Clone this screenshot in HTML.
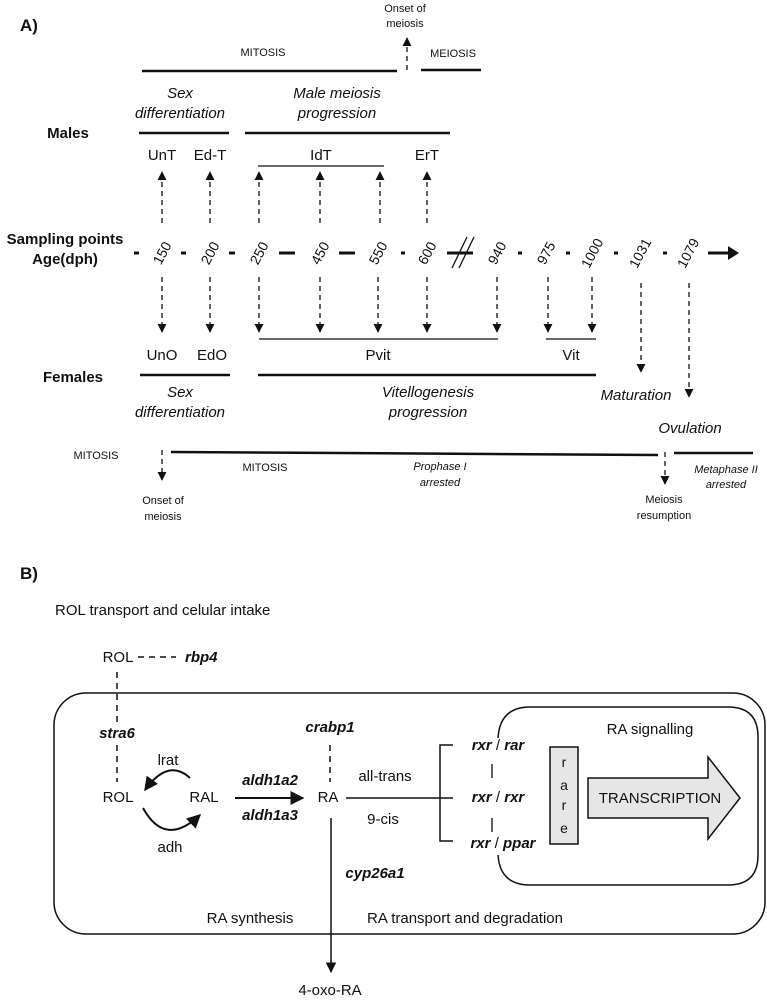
<!DOCTYPE html>
<html><head><meta charset="utf-8"><style>
html,body{margin:0;padding:0;background:#fff;}
svg{display:block;}
text{font-family:"Liberation Sans Narrow","Liberation Sans",sans-serif;fill:#111;}
.it{font-style:italic;}
.b{font-weight:bold;}
.bi{font-weight:bold;font-style:italic;}
</style></head><body>
<svg width="767" height="1001" viewBox="0 0 767 1001" xmlns="http://www.w3.org/2000/svg">
<defs>
<marker id="ah" viewBox="0 0 10 10" refX="9" refY="5" markerWidth="7" markerHeight="7" orient="auto"><path d="M0,0 L10,5 L0,10 z" fill="#111"/></marker>
</defs>
<g stroke="#111" fill="none">
<!-- A top -->
<line x1="407" y1="70" x2="407" y2="38" stroke-width="1.3" stroke-dasharray="5,4" marker-end="url(#ah)"/>
<line x1="142" y1="71" x2="397" y2="71" stroke-width="2.5"/>
<line x1="421" y1="70" x2="481" y2="70" stroke-width="2.5"/>
<line x1="139" y1="133" x2="229" y2="133" stroke-width="2.5"/>
<line x1="245" y1="133" x2="450" y2="133" stroke-width="2.5"/>
<line x1="258" y1="166" x2="384" y2="166" stroke-width="1.3"/>
<g stroke-width="1.3" stroke-dasharray="5,4" marker-end="url(#ah)">
<line x1="162" y1="223" x2="162" y2="172"/><line x1="210" y1="223" x2="210" y2="172"/>
<line x1="259" y1="223" x2="259" y2="172"/><line x1="320" y1="223" x2="320" y2="172"/>
<line x1="380" y1="223" x2="380" y2="172"/><line x1="427" y1="223" x2="427" y2="172"/>
</g>
<!-- axis dashes -->
<g stroke-width="3">
<line x1="134" y1="253" x2="139" y2="253"/><line x1="181" y1="253" x2="186" y2="253"/>
<line x1="229" y1="253" x2="235" y2="253"/><line x1="279" y1="253" x2="295" y2="253"/>
<line x1="339" y1="253" x2="355" y2="253"/><line x1="401" y1="253" x2="405" y2="253"/>
<line x1="447" y1="253" x2="473" y2="253"/><line x1="518" y1="253" x2="522" y2="253"/>
<line x1="566" y1="253" x2="570" y2="253"/><line x1="614" y1="253" x2="618" y2="253"/>
<line x1="663" y1="253" x2="667" y2="253"/><line x1="708" y1="253" x2="730" y2="253"/>
</g>
<path d="M728,246 L739,253 L728,260 z" fill="#111" stroke="none"/>
<line x1="452" y1="268" x2="467" y2="237" stroke-width="1.3"/>
<line x1="459" y1="268" x2="474" y2="237" stroke-width="1.3"/>
<!-- down arrows -->
<g stroke-width="1.3" stroke-dasharray="5,4" marker-end="url(#ah)">
<line x1="162" y1="277" x2="162" y2="332"/><line x1="210" y1="277" x2="210" y2="332"/>
<line x1="259" y1="277" x2="259" y2="332"/><line x1="320" y1="277" x2="320" y2="332"/>
<line x1="378" y1="277" x2="378" y2="332"/><line x1="427" y1="277" x2="427" y2="332"/>
<line x1="497" y1="277" x2="497" y2="332"/><line x1="548" y1="277" x2="548" y2="332"/>
<line x1="592" y1="277" x2="592" y2="332"/><line x1="641" y1="283" x2="641" y2="372"/>
<line x1="689" y1="283" x2="689" y2="397"/>
</g>
<line x1="259" y1="339" x2="498" y2="339" stroke-width="1.3"/>
<line x1="546" y1="339" x2="596" y2="339" stroke-width="1.3"/>
<line x1="140" y1="375" x2="230" y2="375" stroke-width="2.5"/>
<line x1="258" y1="375" x2="596" y2="375" stroke-width="2.5"/>
<line x1="171" y1="452" x2="658" y2="455" stroke-width="2.5"/>
<line x1="674" y1="453" x2="753" y2="453" stroke-width="2.5"/>
<line x1="162" y1="450" x2="162" y2="480" stroke-width="1.3" stroke-dasharray="5,4" marker-end="url(#ah)"/>
<line x1="665" y1="452" x2="665" y2="484" stroke-width="1.3" stroke-dasharray="5,4" marker-end="url(#ah)"/>

<!-- B -->
<line x1="138" y1="657" x2="176" y2="657" stroke-width="1.5" stroke-dasharray="6,5"/>
<line x1="117" y1="672" x2="117" y2="722" stroke-width="1.5" stroke-dasharray="6,5"/>
<line x1="117" y1="745" x2="117" y2="782" stroke-width="1.5" stroke-dasharray="6,5"/>
<rect x="54" y="693" width="711" height="241" rx="32" stroke-width="1.5"/>
<path d="M498,738 Q500,707 530,707 L728,707 Q758,707 758,737 L758,855 Q758,885 728,885 L530,885 Q500,885 498,855" stroke-width="1.5"/>
<line x1="330" y1="745" x2="330" y2="782" stroke-width="1.5" stroke-dasharray="6,5"/>
<path d="M190,778 Q168,758 145,790" stroke-width="2" marker-end="url(#ah)"/>
<path d="M143,808 Q165,848 200,815" stroke-width="2" marker-end="url(#ah)"/>
<line x1="235" y1="798" x2="303" y2="798" stroke-width="2" marker-end="url(#ah)"/>
<line x1="346" y1="798" x2="440" y2="798" stroke-width="1.5"/>
<path d="M453,745 L440,745 L440,841 L453,841" stroke-width="1.5"/>
<line x1="440" y1="798" x2="453" y2="798" stroke-width="1.5"/>
<line x1="492" y1="764" x2="492" y2="778" stroke-width="1.3"/>
<line x1="492" y1="818" x2="492" y2="832" stroke-width="1.3"/>
<rect x="550" y="747" width="28" height="97" fill="#e6e6e6" stroke-width="1.5"/>
<path d="M588,778 L708,778 L708,757 L740,798 L708,839 L708,818 L588,818 z" fill="#e6e6e6" stroke-width="1.5"/>
<line x1="331" y1="818" x2="331" y2="972" stroke-width="1.5" marker-end="url(#ah)"/>
</g>

<g font-size="15">
<text x="20" y="31" class="b" font-size="17">A)</text>
<text x="405" y="12" font-size="11" text-anchor="middle">Onset of</text>
<text x="405" y="27" font-size="11" text-anchor="middle">meiosis</text>
<text x="263" y="56" font-size="11" text-anchor="middle">MITOSIS</text>
<text x="453" y="57" font-size="11" text-anchor="middle">MEIOSIS</text>
<text x="180" y="98" class="it" text-anchor="middle">Sex</text>
<text x="180" y="118" class="it" text-anchor="middle">differentiation</text>
<text x="337" y="98" class="it" text-anchor="middle">Male meiosis</text>
<text x="337" y="118" class="it" text-anchor="middle">progression</text>
<text x="68" y="138" class="b" text-anchor="middle">Males</text>
<text x="162" y="160" text-anchor="middle">UnT</text>
<text x="210" y="160" text-anchor="middle">Ed-T</text>
<text x="321" y="160" text-anchor="middle">IdT</text>
<text x="427" y="160" text-anchor="middle">ErT</text>
<text x="65" y="244" class="b" text-anchor="middle">Sampling points</text>
<text x="65" y="264" class="b" text-anchor="middle">Age(dph)</text>
<g font-size="14" text-anchor="middle">
<text transform="translate(162,253) rotate(-62)" y="5">150</text>
<text transform="translate(210,253) rotate(-62)" y="5">200</text>
<text transform="translate(259,253) rotate(-62)" y="5">250</text>
<text transform="translate(320,253) rotate(-62)" y="5">450</text>
<text transform="translate(378,253) rotate(-62)" y="5">550</text>
<text transform="translate(427,253) rotate(-62)" y="5">600</text>
<text transform="translate(497,253) rotate(-62)" y="5">940</text>
<text transform="translate(546,253) rotate(-62)" y="5">975</text>
<text transform="translate(592,253) rotate(-62)" y="5">1000</text>
<text transform="translate(640,253) rotate(-62)" y="5">1031</text>
<text transform="translate(688,253) rotate(-62)" y="5">1079</text>
</g>
<text x="162" y="360" text-anchor="middle">UnO</text>
<text x="212" y="360" text-anchor="middle">EdO</text>
<text x="378" y="360" text-anchor="middle">Pvit</text>
<text x="571" y="360" text-anchor="middle">Vit</text>
<text x="73" y="382" class="b" text-anchor="middle">Females</text>
<text x="180" y="397" class="it" text-anchor="middle">Sex</text>
<text x="180" y="417" class="it" text-anchor="middle">differentiation</text>
<text x="428" y="397" class="it" text-anchor="middle">Vitellogenesis</text>
<text x="428" y="417" class="it" text-anchor="middle">progression</text>
<text x="636" y="400" class="it" text-anchor="middle">Maturation</text>
<text x="690" y="433" class="it" text-anchor="middle">Ovulation</text>
<text x="96" y="459" font-size="11" text-anchor="middle">MITOSIS</text>
<text x="265" y="471" font-size="11" text-anchor="middle">MITOSIS</text>
<text x="440" y="470" font-size="11" class="it" text-anchor="middle">Prophase I</text>
<text x="440" y="486" font-size="11" class="it" text-anchor="middle">arrested</text>
<text x="726" y="473" font-size="11" class="it" text-anchor="middle">Metaphase II</text>
<text x="726" y="488" font-size="11" class="it" text-anchor="middle">arrested</text>
<text x="163" y="504" font-size="11" text-anchor="middle">Onset of</text>
<text x="163" y="520" font-size="11" text-anchor="middle">meiosis</text>
<text x="664" y="503" font-size="11" text-anchor="middle">Meiosis</text>
<text x="664" y="519" font-size="11" text-anchor="middle">resumption</text>

<text x="20" y="579" class="b" font-size="17">B)</text>
<text x="55" y="615">ROL transport and celular intake</text>
<text x="118" y="662" text-anchor="middle">ROL</text>
<text x="185" y="662" class="bi">rbp4</text>
<text x="117" y="738" class="bi" text-anchor="middle">stra6</text>
<text x="330" y="732" class="bi" text-anchor="middle">crabp1</text>
<text x="168" y="765" text-anchor="middle">lrat</text>
<text x="118" y="802" text-anchor="middle">ROL</text>
<text x="204" y="802" text-anchor="middle">RAL</text>
<text x="170" y="852" text-anchor="middle">adh</text>
<text x="270" y="785" class="bi" text-anchor="middle">aldh1a2</text>
<text x="270" y="820" class="bi" text-anchor="middle">aldh1a3</text>
<text x="328" y="802" text-anchor="middle">RA</text>
<text x="385" y="781" text-anchor="middle">all-trans</text>
<text x="383" y="824" text-anchor="middle">9-cis</text>
<text x="498" y="750" class="bi" text-anchor="middle">rxr <tspan font-weight="normal" font-style="normal">/</tspan> rar</text>
<text x="498" y="802" class="bi" text-anchor="middle">rxr <tspan font-weight="normal" font-style="normal">/</tspan> rxr</text>
<text x="503" y="848" class="bi" text-anchor="middle">rxr <tspan font-weight="normal" font-style="normal">/</tspan> ppar</text>
<text x="650" y="734" text-anchor="middle">RA signalling</text>
<g text-anchor="middle" font-size="14">
<text x="564" y="767">r</text><text x="564" y="790">a</text><text x="564" y="810">r</text><text x="564" y="833">e</text>
</g>
<text x="660" y="803" text-anchor="middle">TRANSCRIPTION</text>
<text x="375" y="878" class="bi" text-anchor="middle">cyp26a1</text>
<text x="250" y="923" text-anchor="middle">RA synthesis</text>
<text x="465" y="923" text-anchor="middle">RA transport and degradation</text>
<text x="330" y="995" text-anchor="middle">4-oxo-RA</text>
</g>
</svg>
</body></html>
